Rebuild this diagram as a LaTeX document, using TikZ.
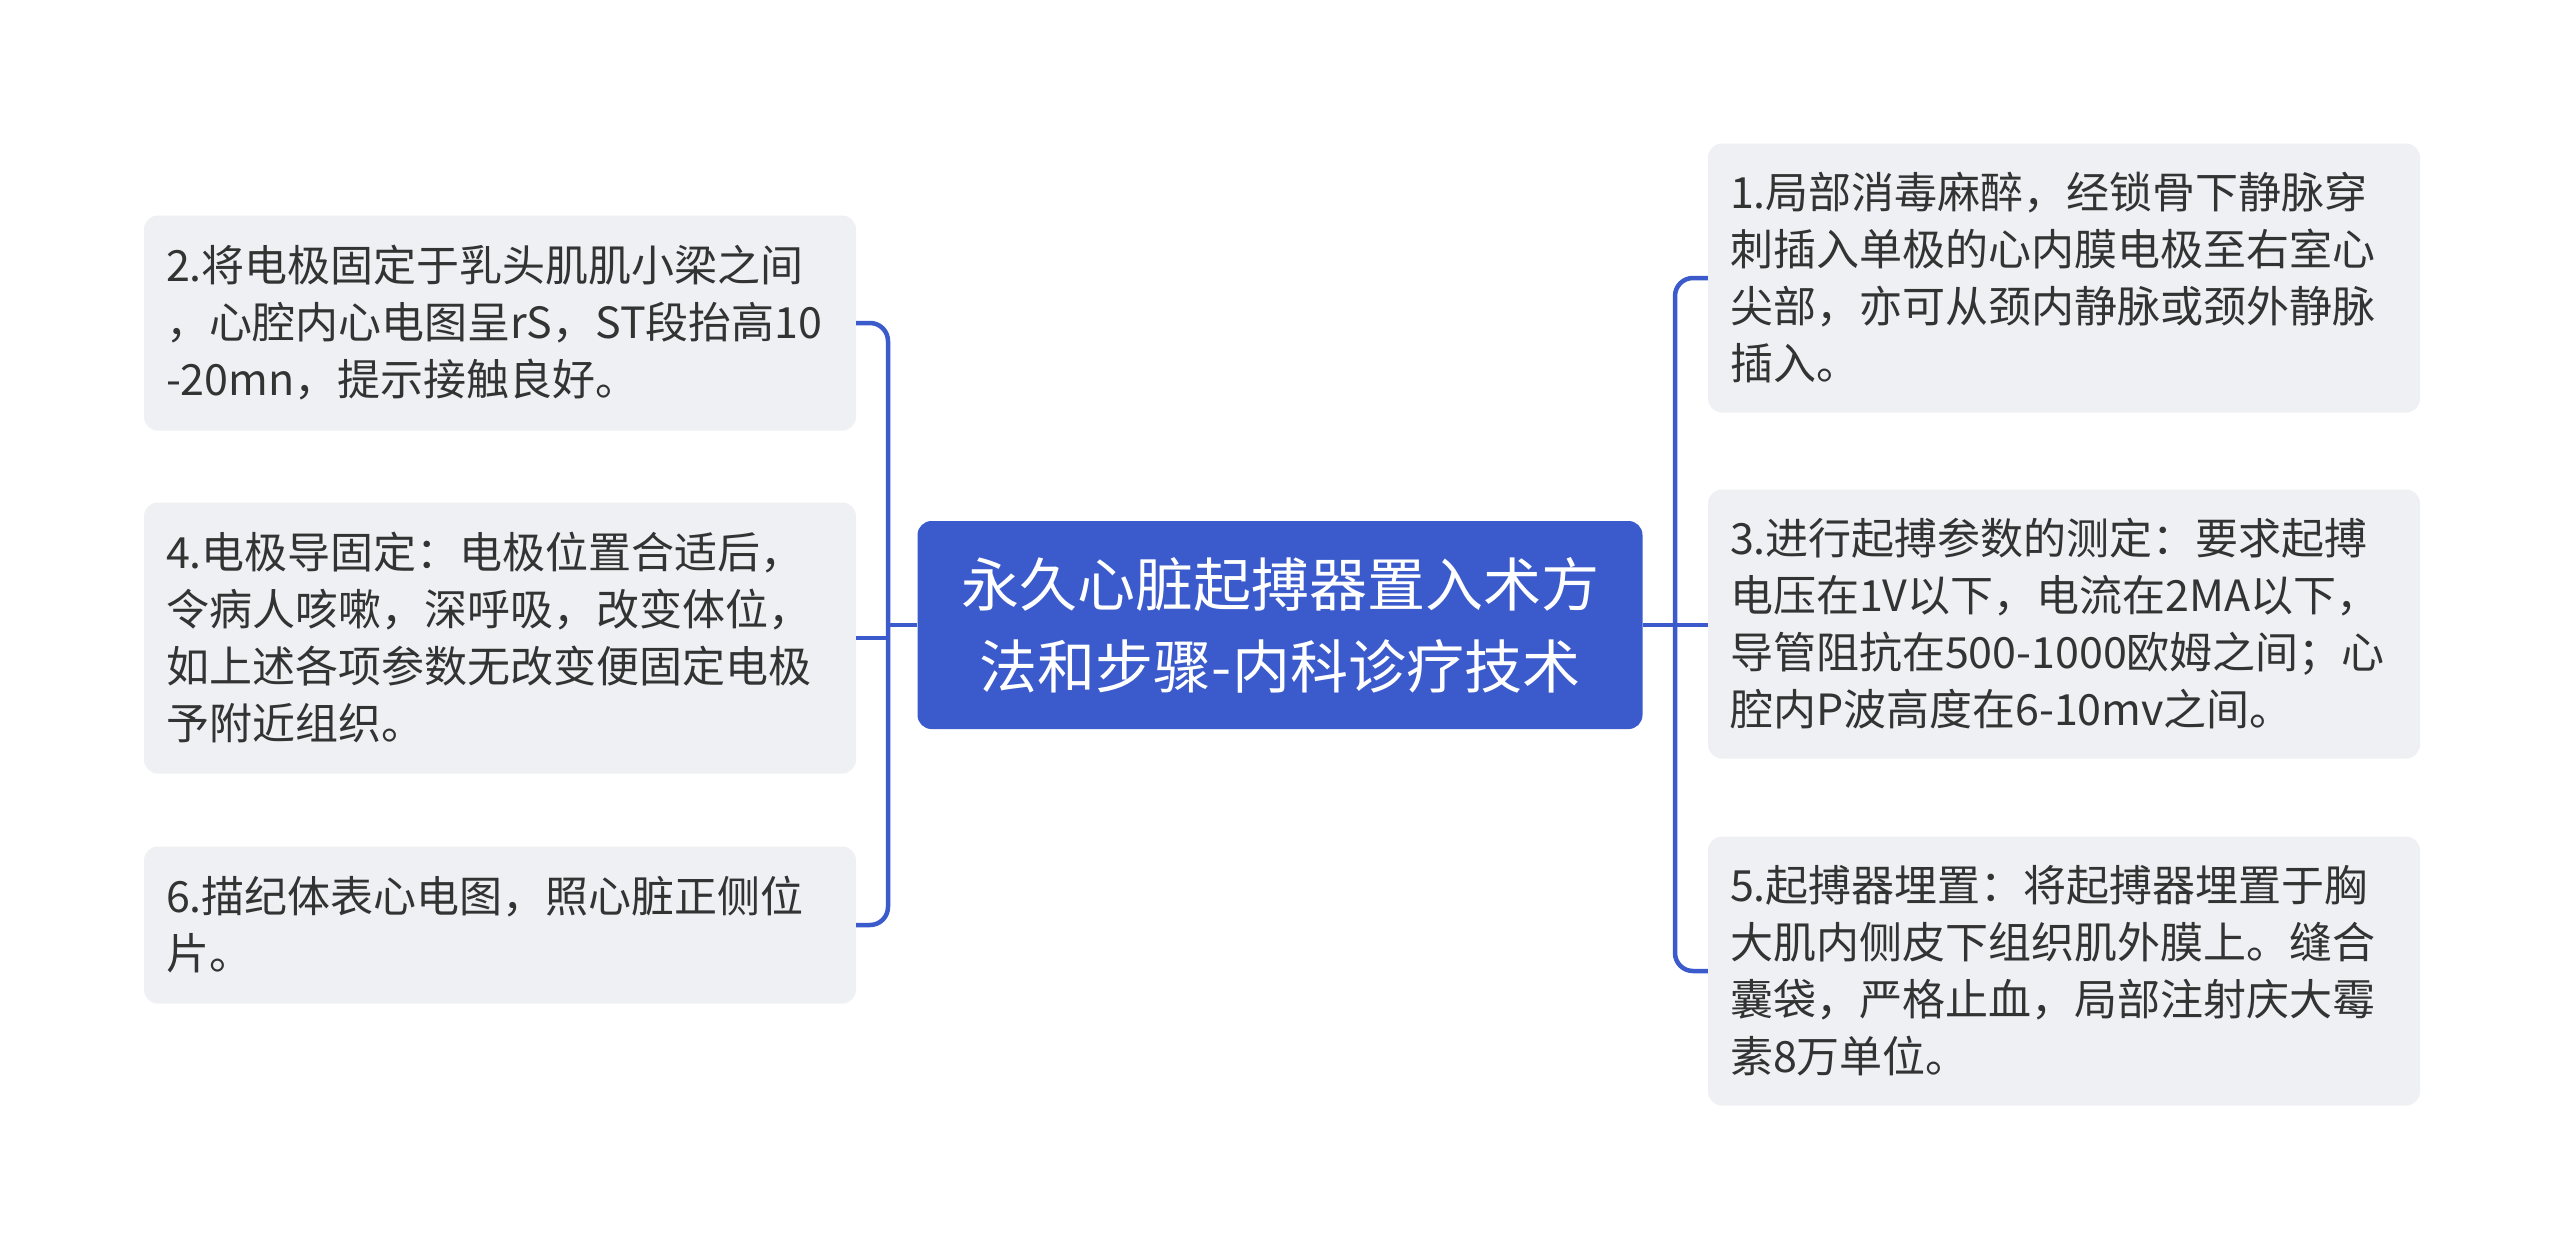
\documentclass[tikz,border=0pt]{standalone}
\usepackage{fontspec}
\setmainfont{Noto Sans CJK SC}
\definecolor{mapblue}{HTML}{3B5BCC}
\definecolor{leafgray}{HTML}{EEF0F3}
\definecolor{inkgray}{HTML}{333333}
\tikzset{
    leaf/.style={fill=leafgray, rounded corners=14pt, text width=668pt, align=left,
        inner xsep=22pt, inner ysep=0pt, text=inkgray, font=\fontsize{43pt}{57pt}\selectfont},
    topic/.style={fill=mapblue, rounded corners=14pt, minimum width=725pt, minimum height=208pt,
        align=center, text=white, font=\fontsize{58pt}{82pt}\selectfont},
    link/.style={draw=mapblue, line width=4.5pt}
}
\begin{document}
\begin{tikzpicture}[x=1pt, y=-1pt]
    \fill[white] (0,0) rectangle (2560,1247);
    \useasboundingbox (0,0) rectangle (2560,1247);

    \node[topic] (topic) at (1280,625) {永久心脏起搏器置入术方\\法和步骤-内科诊疗技术};

    \node[leaf, minimum height=215pt] (step2) at (500,323) {2.将电极固定于乳头肌肌小梁之间\\，心腔内心电图呈rS，ST段抬高10\\-20mn，提示接触良好。}; %L
    \node[leaf, minimum height=271pt] (step4) at (500,638) {4.电极导固定：电极位置合适后，\\令病人咳嗽，深呼吸，改变体位，\\如上述各项参数无改变便固定电极\\予附近组织。}; %L
    \node[leaf, minimum height=157pt] (step6) at (500,925) {6.描纪体表心电图，照心脏正侧位\\片。}; %L
    \node[leaf, minimum height=269pt] (step1) at (2064,278) {1.局部消毒麻醉，经锁骨下静脉穿\\刺插入单极的心内膜电极至右室心\\尖部，亦可从颈内静脉或颈外静脉\\插入。}; %R
    \node[leaf, minimum height=269pt] (step3) at (2064,624) {3.进行起搏参数的测定：要求起搏\\电压在1V以下，电流在2MA以下，\\导管阻抗在500-1000欧姆之间；心\\腔内P波高度在6-10mv之间。}; %R
    \node[leaf, minimum height=269pt] (step5) at (2064,971) {5.起搏器埋置：将起搏器埋置于胸\\大肌内侧皮下组织肌外膜上。缝合\\囊袋，严格止血，局部注射庆大霉\\素8万单位。}; %R

    \coordinate (lbar) at (888,625);
    \coordinate (rbar) at (1675,625);
    \draw[link, rounded corners=18pt] (step2.east) -| (lbar) |- (step6.east);
    \draw[link] (topic.west) -- (lbar);
    \draw[link] (step4.east) -- (step4.east -| lbar);
    \draw[link, rounded corners=18pt] (step1.west) -| (rbar) |- (step5.west);
    \draw[link] (topic.east) -- (topic.east -| step3.west);
\end{tikzpicture}
\end{document}
